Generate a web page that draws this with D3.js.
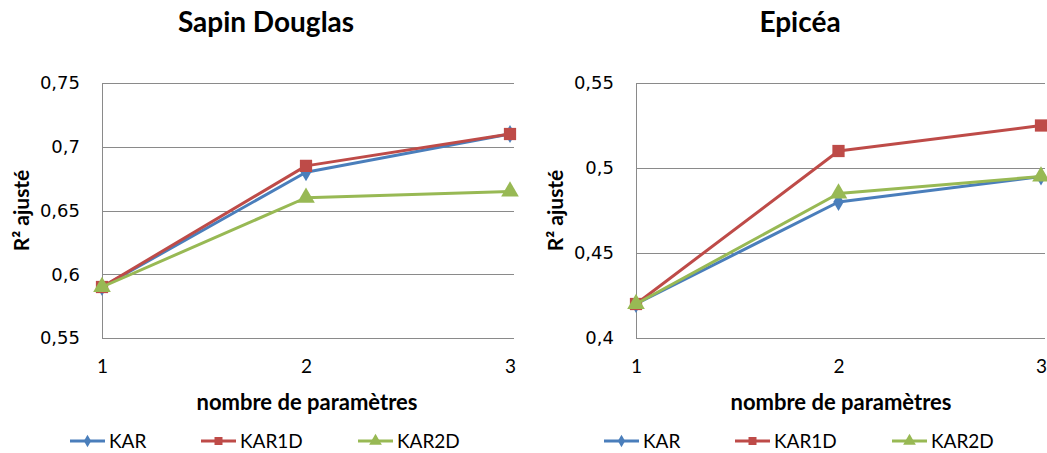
<!DOCTYPE html>
<html>
<head>
<meta charset="utf-8">
<script src="https://cdn.jsdelivr.net/npm/d3@7"></script>
<style>
  html, body { margin: 0; padding: 0; background: #fff; }
  svg { display: block; }
</style>
</head>
<body>
<svg id="chart" width="1047" height="453"></svg>
<script>
// Number of parameters on the x axis
const params = [1, 2, 3];
const seriesNames = ["KAR", "KAR1D", "KAR2D"];

// Sapin Douglas – adjusted R² per model
const douglasKAR   = [0.59, 0.68, 0.71];
const douglasKAR1D = [0.59, 0.685, 0.71];
const douglasKAR2D = [0.59, 0.66, 0.665];
const douglasTicks = [0.55, 0.6, 0.65, 0.7, 0.75];

// Epicéa – adjusted R² per model
const epiceaKAR   = [0.42, 0.48, 0.495];
const epiceaKAR1D = [0.42, 0.51, 0.525];
const epiceaKAR2D = [0.42, 0.485, 0.495];
const epiceaTicks = [0.4, 0.45, 0.5, 0.55];

const panels = [
  { title: "Sapin Douglas", series: [douglasKAR, douglasKAR1D, douglasKAR2D], ticks: douglasTicks, left: 102, right: 510 },
  { title: "Epicéa", series: [epiceaKAR, epiceaKAR1D, epiceaKAR2D], ticks: epiceaTicks, left: 636, right: 1041 }
];

const colors = ["#4A7EBB", "#BE4B48", "#98B954"];
const symbols = [d3.symbolDiamond, d3.symbolSquare, d3.symbolTriangle];
const symbolSizes = [95, 150, 135];
const legendSizes = [45, 64, 70];

const plotTop = 83, plotBottom = 338;
const frFmt = v => d3.format("")(+v.toFixed(2)).replace(".", ",");

const svg = d3.select("#chart");

panels.forEach(p => {
  const g = svg.append("g");
  const x = d3.scaleLinear().domain([1, 3]).range([p.left, p.right]);
  const y = d3.scaleLinear().domain(d3.extent(p.ticks)).range([plotBottom, plotTop]);

  // horizontal gridlines
  g.append("g").selectAll("line").data(p.ticks).join("line")
    .attr("x1", p.left).attr("x2", p.right + 4)
    .attr("y1", d => Math.round(y(d)) + 0.5).attr("y2", d => Math.round(y(d)) + 0.5)
    .attr("stroke", "#8a8a8a").attr("stroke-width", 1);

  // y axis line
  g.append("line")
    .attr("x1", p.left + 0.5).attr("x2", p.left + 0.5)
    .attr("y1", plotTop).attr("y2", plotBottom + 0.5)
    .attr("stroke", "#8a8a8a").attr("stroke-width", 1);

  // y axis tick labels
  const yAxis = d3.axisLeft(y).tickValues(p.ticks).tickFormat(frFmt).tickSize(0).tickPadding(22);
  const ya = g.append("g").attr("transform", `translate(${p.left},0)`).call(yAxis);
  ya.select(".domain").remove();
  ya.selectAll("text").attr("font-family", "DejaVu Sans").attr("font-size", 18).attr("fill", "#000");

  // x axis tick labels
  const xAxis = d3.axisBottom(x).tickValues(params).tickFormat(d3.format("d")).tickSize(0).tickPadding(22);
  const xa = g.append("g").attr("transform", `translate(0,${plotBottom})`).call(xAxis);
  xa.select(".domain").remove();
  xa.selectAll("text").attr("font-family", "Lato").attr("font-size", 19).attr("fill", "#000");

  // titles
  g.append("text").attr("x", p.left + 164).attr("y", 32).attr("text-anchor", "middle")
    .attr("font-family", "Lato").attr("font-weight", "bold").attr("font-size", 28)
    .text(p.title);
  g.append("text").attr("x", p.left + 205).attr("y", 410).attr("text-anchor", "middle")
    .attr("font-family", "Lato").attr("font-weight", "bold").attr("font-size", 22)
    .text("nombre de paramètres");
  g.append("text")
    .attr("transform", `translate(${p.left - 73},${(plotTop + plotBottom) / 2}) rotate(-90)`)
    .attr("text-anchor", "middle")
    .attr("font-family", "Lato").attr("font-weight", "bold").attr("font-size", 21)
    .text("R² ajusté");

  // series lines and markers
  const line = d3.line().x((d, i) => x(params[i])).y(d => y(d));
  p.series.forEach((vals, si) => {
    const sg = g.append("g");
    sg.append("path").datum(vals).attr("d", line)
      .attr("fill", "none").attr("stroke", colors[si]).attr("stroke-width", 3)
      .attr("stroke-linejoin", "round");
    sg.selectAll("path.m").data(vals).join("path").attr("class", "m")
      .attr("transform", (d, i) => `translate(${x(params[i])},${y(d)})`)
      .attr("d", d3.symbol(symbols[si], symbolSizes[si]))
      .attr("fill", colors[si]);
  });

  // legend
  const legOffsets = [-32, 99, 256];
  const ly = 441;
  seriesNames.forEach((name, si) => {
    const lx = p.left + legOffsets[si];
    const lg = g.append("g");
    lg.append("line").attr("x1", lx).attr("x2", lx + 35).attr("y1", ly).attr("y2", ly)
      .attr("stroke", colors[si]).attr("stroke-width", 3);
    lg.append("path").attr("transform", `translate(${lx + 17.5},${ly})`)
      .attr("d", d3.symbol(symbols[si], legendSizes[si])).attr("fill", colors[si]);
    lg.append("text").attr("x", lx + 39).attr("y", ly + 7)
      .attr("font-family", "Lato").attr("font-size", 19).attr("fill", "#000")
      .text(name);
  });
});
</script>
</body>
</html>
